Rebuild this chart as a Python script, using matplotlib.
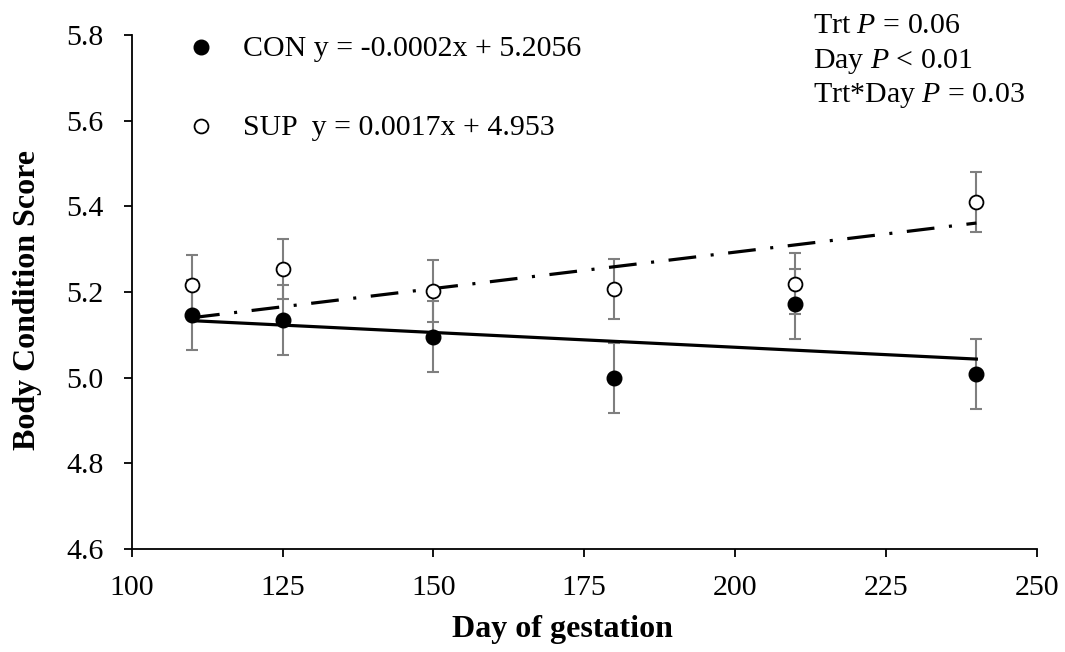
import matplotlib
matplotlib.use('AGG')
import matplotlib.pyplot as plt
import numpy as np

plt.rcParams['font.family'] = ['Liberation Serif', 'DejaVu Serif']
plt.rcParams['mathtext.fontset'] = 'custom'
plt.rcParams['mathtext.rm'] = 'Liberation Serif'
plt.rcParams['mathtext.it'] = 'Liberation Serif:italic'
plt.rcParams['lines.scale_dashes'] = False

# data
days = [110, 125, 150, 180, 210, 240]
con_bcs = [5.146, 5.135, 5.096, 4.999, 5.172, 5.008]
con_se = [0.081, 0.082, 0.083, 0.082, 0.082, 0.082]
sup_bcs = [5.216, 5.253, 5.202, 5.207, 5.219, 5.411]
sup_se = [0.070, 0.070, 0.072, 0.070, 0.071, 0.070]
# trend lines (slope, intercept) as drawn
con_trend = (-0.00069, 5.209)
sup_trend = (0.0017, 4.953)

con_label = 'CON y = -0.0002x + 5.2056'
sup_label = 'SUP  y = 0.0017x + 4.953'
stats = ['Trt $P$ = 0.06', 'Day $P$ < 0.01', 'Trt*Day $P$ = 0.03']

W, H = 1065, 652
fig = plt.figure(figsize=(W/100, H/100), dpi=100)
ax = fig.add_axes([131.7/W, 1-549/H, (1036.7-131.7)/W, (549-35)/H])

def px(x, y):
    return x/W, 1-y/H

# error bars
ax.errorbar(days, con_bcs, yerr=con_se, fmt='none', ecolor='#7f7f7f', elinewidth=1.5, capsize=4.5, capthick=1.5, zorder=2)
ax.errorbar(days, sup_bcs, yerr=sup_se, fmt='none', ecolor='#7f7f7f', elinewidth=1.5, capsize=4.5, capthick=1.5, zorder=2)

# trend lines
xl = np.array([days[0], days[-1]])
ax.plot(xl, con_trend[0]*xl + con_trend[1], color='k', lw=2.3, zorder=3)
ax.plot(xl, sup_trend[0]*xl + sup_trend[1], color='k', lw=2.3, dashes=(20, 10.5, 2.2, 10.5), zorder=3)

# points
ax.plot(days, con_bcs, 'o', ms=10.5, mfc='k', mec='k', zorder=4)
ax.plot(days, sup_bcs, 'o', ms=10, mfc='white', mec='k', mew=1.3, zorder=4)

ax.set_xlim(100, 250)
ax.set_ylim(4.6, 5.8)
ax.set_xticks(np.arange(100, 251, 25))
ax.set_yticks(np.arange(4.6, 5.81, 0.2))
ax.set_yticklabels([f'{v:.1f}' for v in np.arange(4.6, 5.81, 0.2)])
for s in ['top', 'right']:
    ax.spines[s].set_visible(False)
for s in ['left', 'bottom']:
    ax.spines[s].set_linewidth(1.3)
ax.tick_params(axis='both', direction='out', length=6, width=1.3, labelsize=21.5)
ax.tick_params(axis='y', pad=14)
ax.tick_params(axis='x', pad=13)

# axis titles
fig.text(*px(562.5, 637), 'Day of gestation', ha='center', va='baseline', fontsize=23, fontweight='bold')
fig.text(*px(28, 300), 'Body Condition Score', ha='center', va='center', rotation=90, fontsize=23, fontweight='bold')

# legend with equations
ax.plot(*px(200.7, 46.7), 'o', ms=10.5, mfc='k', mec='k', transform=fig.transFigure, clip_on=False)
ax.plot(*px(200.5, 126), 'o', ms=10, mfc='white', mec='k', mew=1.3, transform=fig.transFigure, clip_on=False)
fig.text(*px(243, 56), con_label, ha='left', va='baseline', fontsize=21.5)
fig.text(*px(243, 135), sup_label, ha='left', va='baseline', fontsize=21.5)

# stats
for i, s in enumerate(stats):
    fig.text(*px(813, 33 + 34.5*i), s, ha='left', va='baseline', fontsize=21.5)

plt.savefig('out.png', dpi=100)
